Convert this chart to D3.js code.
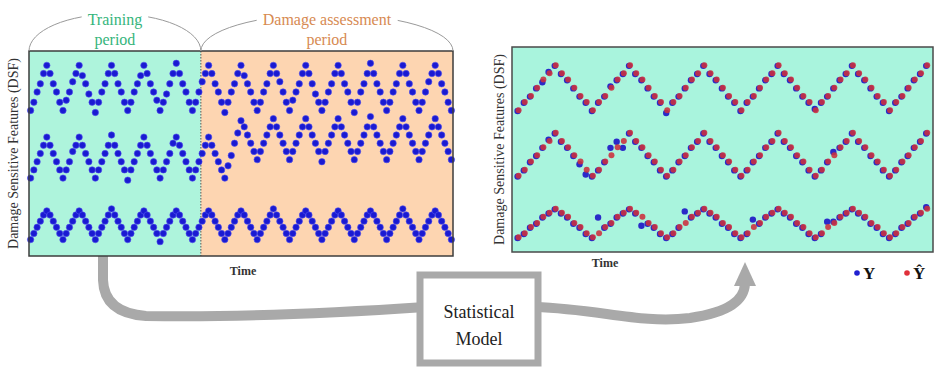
<!DOCTYPE html>
<html>
<head>
<meta charset="utf-8">
<script src="https://cdn.jsdelivr.net/npm/d3@7"></script>
<style>
  html, body { margin: 0; padding: 0; background: #fff; }
  svg { display: block; }
</style>
</head>
<body>
<div id="chart"></div>
<script>
// time index where the training period stops (left panel)
const trainingEnd = 52.6;

// left panel: three DSF series, one sample per time step
const leftTop = [
  71,75,80,84,89,93,89,84,80,75,
  71,76,80,85,89,93,88,84,79,75,
  70,75,80,84,89,93,89,84,80,75,
  71,75,80,84,88,93,89,84,80,76,
  71,75,79,84,89,94,89,84,80,75,
  71,75,80,85,89,93,89,84,80,75,
  70,75,80,84,89,93,88,84,80,75,
  71,75,80,84,89,93,89,85,80,75,
  71,76,80,84,89,93,89,84,79,75,
  71,75,80,84,89,93,89,84,80,75,
  70,75,80,84,89,94,89,84,80,75,
  71,75,80,84,89,93,89,84,80,75,
  71,75,80,85,89,93,89,84,80,75,
  71
];
const leftMid = [
  38,42,46,50,54,58,54,50,46,42,
  38,42,46,51,54,58,54,50,46,42,
  38,42,46,50,54,59,54,50,46,42,
  37,42,46,50,54,58,54,50,46,42,
  38,42,46,50,55,58,54,50,46,42,
  38,42,46,50,54,58,54,50,46,42,
  38,44,49,55,60,66,63,59,55,51,
  47,51,55,59,63,67,63,59,55,51,
  47,51,55,59,63,67,63,59,55,51,
  46,51,55,59,63,67,63,59,55,51,
  47,51,55,59,63,68,63,59,55,51,
  47,51,55,59,63,67,63,59,55,51,
  47,51,55,59,63,67,63,59,55,51,
  47
];
const leftBot = [
  8,11,14,17,20,22,20,17,14,11,
  8,11,14,17,20,22,20,17,14,11,
  8,11,14,17,20,23,20,17,14,11,
  8,11,14,17,20,22,20,17,14,11,
  7,11,14,17,20,22,20,17,14,11,
  8,11,14,17,20,22,20,17,14,11,
  8,11,14,17,20,22,20,17,14,11,
  8,11,14,17,20,23,20,17,14,11,
  8,11,14,17,20,22,20,17,14,11,
  8,11,14,17,20,22,20,17,14,11,
  8,11,14,17,20,22,20,17,14,11,
  8,11,14,17,20,23,20,17,14,11,
  8,11,14,17,20,22,20,17,14,11,
  8
];

// right panel: measured Y and predicted Y-hat
const rightTopY = [
  69,73,76,80,83,88,91,87,84,80,76,73,
  69,73,76,81,84,87,91,87,84,80,76,73,
  68,73,76,80,84,87,91,87,84,80,76,73,
  69,73,76,80,84,87,91,87,84,80,76,73,
  70,73,76,80,84,87,91,87,84,80,76,73,
  69,73,76,80,84,87,91
];
const rightTopYhat = [
  69,73,76,80,84,87,91,87,84,80,76,73,
  69,73,76,80,84,87,91,87,84,80,76,73,
  69,73,76,80,84,87,91,87,84,80,76,73,
  69,73,76,80,84,87,91,87,84,80,76,73,
  69,73,76,80,84,87,91,87,84,80,76,73,
  69,73,76,80,84,87,91
];
const rightMidY = [
  37,40,44,47,51,55,58,54,51,47,43,38,
  37,40,44,51,54,51,58,54,51,47,44,40,
  37,40,44,47,51,54,58,54,51,47,44,40,
  37,40,44,47,51,54,58,54,51,47,44,40,
  37,40,44,49,51,54,58,54,51,47,44,40,
  37,40,44,47,51,54,58
];
const rightMidYhat = [
  37,40,44,47,51,54,58,54,51,47,44,40,
  37,40,44,47,51,54,58,54,51,47,44,40,
  37,40,44,47,51,54,58,54,51,47,44,40,
  37,40,44,47,51,54,58,54,51,47,44,40,
  37,40,44,47,51,54,58,54,51,47,44,40,
  37,40,44,47,51,54,58
];
const rightBotY = [
  7,9,12,14,17,19,21,19,17,14,12,9,
  7,17,12,14,17,19,21,19,13,14,12,9,
  7,9,12,20,17,19,21,19,17,14,12,9,
  7,9,16,14,17,19,21,19,17,14,12,9,
  7,9,15,15,17,19,21,19,17,14,12,9,
  7,9,12,14,17,19,22
];
const rightBotYhat = [
  7,9,12,14,17,19,21,19,17,14,12,9,
  7,9,12,14,17,19,21,19,17,14,12,9,
  7,9,12,14,17,19,21,19,17,14,12,9,
  7,9,12,14,17,19,21,19,17,14,12,9,
  7,9,12,14,17,19,21,19,17,14,12,9,
  7,9,12,14,17,19,21
];

const width = 937, height = 367;
const serif = "'Liberation Serif', 'Times New Roman', 'DejaVu Serif', serif";
const svg = d3.select("#chart").append("svg")
  .attr("width", width)
  .attr("height", height)
  .attr("font-family", serif);

// scales for both panels
const xLeft = d3.scaleLinear().domain([-0.5, 130.5]).range([29, 453]);
const yLeft = d3.scaleLinear().domain([0, 100]).range([256, 51]);
const xRight = d3.scaleLinear().domain([-1, 67]).range([512, 933]);
const yRight = d3.scaleLinear().domain([0, 100]).range([252, 47]);

const arrowGray = "#a9a9a9";

// ---- connecting arrows and model box (drawn first, behind panels)
const gArrow = svg.append("g");
gArrow.append("path")
  .attr("d", "M103,252 L103,280 Q104,313 146,316 C250,318 350,312 425,307")
  .attr("fill", "none")
  .attr("stroke", arrowGray)
  .attr("stroke-width", 10);
gArrow.append("path")
  .attr("d", "M535,307 C600,309 640,324 690,318 C730,312 744,300 745,284")
  .attr("fill", "none")
  .attr("stroke", arrowGray)
  .attr("stroke-width", 10);
gArrow.append("path")
  .attr("d", "M734,286 L745,262 L756,286 Z")
  .attr("fill", arrowGray);

gArrow.append("rect")
  .attr("x", 420).attr("y", 275)
  .attr("width", 118).attr("height", 88)
  .attr("fill", "#fff")
  .attr("stroke", arrowGray)
  .attr("stroke-width", 7);
gArrow.append("text")
  .attr("x", 479).attr("y", 318)
  .attr("text-anchor", "middle")
  .attr("font-size", 18)
  .attr("fill", "#222")
  .text("Statistical");
gArrow.append("text")
  .attr("x", 479).attr("y", 345)
  .attr("text-anchor", "middle")
  .attr("font-size", 18)
  .attr("fill", "#222")
  .text("Model");

// ---- left panel
const gLeft = svg.append("g");
const xSplit = xLeft(trainingEnd);

gLeft.append("rect")
  .attr("x", xLeft.range()[0]).attr("y", yLeft.range()[1])
  .attr("width", xSplit - xLeft.range()[0])
  .attr("height", yLeft.range()[0] - yLeft.range()[1])
  .attr("fill", "#aef4dc");
gLeft.append("rect")
  .attr("x", xSplit).attr("y", yLeft.range()[1])
  .attr("width", xLeft.range()[1] - xSplit)
  .attr("height", yLeft.range()[0] - yLeft.range()[1])
  .attr("fill", "#fdd5b1");
gLeft.append("line")
  .attr("x1", xSplit).attr("x2", xSplit)
  .attr("y1", yLeft.range()[1]).attr("y2", yLeft.range()[0])
  .attr("stroke", "#555")
  .attr("stroke-width", 1)
  .attr("stroke-dasharray", "1.5,1.5");

[leftTop, leftMid, leftBot].forEach((series) => {
  gLeft.append("g")
    .selectAll("circle")
    .data(series)
    .join("circle")
    .attr("cx", (d, i) => xLeft(i))
    .attr("cy", (d) => yLeft(d))
    .attr("r", 3.2)
    .attr("fill", "#1a1ad2")
    .attr("stroke", "#5050ee")
    .attr("stroke-width", 0.6);
});

gLeft.append("rect")
  .attr("x", xLeft.range()[0]).attr("y", yLeft.range()[1])
  .attr("width", xLeft.range()[1] - xLeft.range()[0])
  .attr("height", yLeft.range()[0] - yLeft.range()[1])
  .attr("fill", "none")
  .attr("stroke", "#3c3c3c")
  .attr("stroke-width", 1.5);

// period brackets above the left panel
const periods = [
  { from: -0.5, to: trainingEnd, lines: ["Training", "period"], color: "#35b57c" },
  { from: trainingEnd, to: 130.5, lines: ["Damage assessment", "period"], color: "#d78a52" },
];
periods.forEach((p) => {
  const x0 = xLeft(p.from), x1 = xLeft(p.to);
  const cx = (x0 + x1) / 2, rx = (x1 - x0) / 2;
  gLeft.append("path")
    .attr("d", `M${x0},${yLeft.range()[1]} A${rx},37 0 0 1 ${x1},${yLeft.range()[1]}`)
    .attr("fill", "none")
    .attr("stroke", "#9a9a9a")
    .attr("stroke-width", 1);
  const label = gLeft.append("g");
  const t1 = label.append("text")
    .attr("x", cx).attr("y", 25)
    .attr("text-anchor", "middle")
    .attr("font-size", 16)
    .attr("fill", p.color)
    .text(p.lines[0]);
  const bb = t1.node().getBBox();
  label.insert("rect", "text")
    .attr("x", bb.x - 6).attr("y", bb.y)
    .attr("width", bb.width + 12).attr("height", bb.height)
    .attr("fill", "#fff");
  label.append("text")
    .attr("x", cx).attr("y", 45)
    .attr("text-anchor", "middle")
    .attr("font-size", 16)
    .attr("fill", p.color)
    .text(p.lines[1]);
});

gLeft.append("text")
  .attr("transform", `translate(18, ${(yLeft.range()[0] + yLeft.range()[1]) / 2}) rotate(-90)`)
  .attr("text-anchor", "middle")
  .attr("font-size", 14)
  .attr("fill", "#333")
  .text("Damage Sensitive Features (DSF)");
gLeft.append("text")
  .attr("x", 243).attr("y", 275)
  .attr("text-anchor", "middle")
  .attr("font-size", 12)
  .attr("font-weight", "bold")
  .attr("fill", "#333")
  .text("Time");

// ---- right panel
const gRight = svg.append("g");
gRight.append("rect")
  .attr("x", xRight.range()[0]).attr("y", yRight.range()[1])
  .attr("width", xRight.range()[1] - xRight.range()[0])
  .attr("height", yRight.range()[0] - yRight.range()[1])
  .attr("fill", "#a9f4dd");

const pairs = [
  [rightTopY, rightTopYhat],
  [rightMidY, rightMidYhat],
  [rightBotY, rightBotYhat],
];
pairs.forEach(([obs, pred]) => {
  gRight.append("g")
    .selectAll("circle")
    .data(obs)
    .join("circle")
    .attr("cx", (d, i) => xRight(i) - 0.6)
    .attr("cy", (d) => yRight(d) + 0.4)
    .attr("r", 3.2)
    .attr("fill", "#2a2ac8");
  gRight.append("g")
    .selectAll("circle")
    .data(pred)
    .join("circle")
    .attr("cx", (d, i) => xRight(i) + 0.4)
    .attr("cy", (d) => yRight(d) - 0.3)
    .attr("r", 3.0)
    .attr("fill", "#cc2f3c")
    .attr("fill-opacity", 0.88);
});

gRight.append("rect")
  .attr("x", xRight.range()[0]).attr("y", yRight.range()[1])
  .attr("width", xRight.range()[1] - xRight.range()[0])
  .attr("height", yRight.range()[0] - yRight.range()[1])
  .attr("fill", "none")
  .attr("stroke", "#4a4a4a")
  .attr("stroke-width", 1.5);

gRight.append("text")
  .attr("transform", `translate(504, ${(yRight.range()[0] + yRight.range()[1]) / 2}) rotate(-90)`)
  .attr("text-anchor", "middle")
  .attr("font-size", 14)
  .attr("fill", "#333")
  .text("Damage Sensitive Features (DSF)");
gRight.append("text")
  .attr("x", 605).attr("y", 267)
  .attr("text-anchor", "middle")
  .attr("font-size", 12)
  .attr("font-weight", "bold")
  .attr("fill", "#333")
  .text("Time");

// legend
const legend = [
  { label: "Y", color: "#2020d0", x: 857 },
  { label: "\u0176", color: "#e0303a", x: 907 },
];
const gLegend = svg.append("g");
legend.forEach((l) => {
  gLegend.append("circle")
    .attr("cx", l.x).attr("cy", 273)
    .attr("r", 2.8)
    .attr("fill", l.color);
  gLegend.append("text")
    .attr("x", l.x + 6).attr("y", 279)
    .attr("font-size", 17)
    .attr("font-weight", "bold")
    .attr("fill", "#111")
    .text(l.label);
});
</script>
</body>
</html>
